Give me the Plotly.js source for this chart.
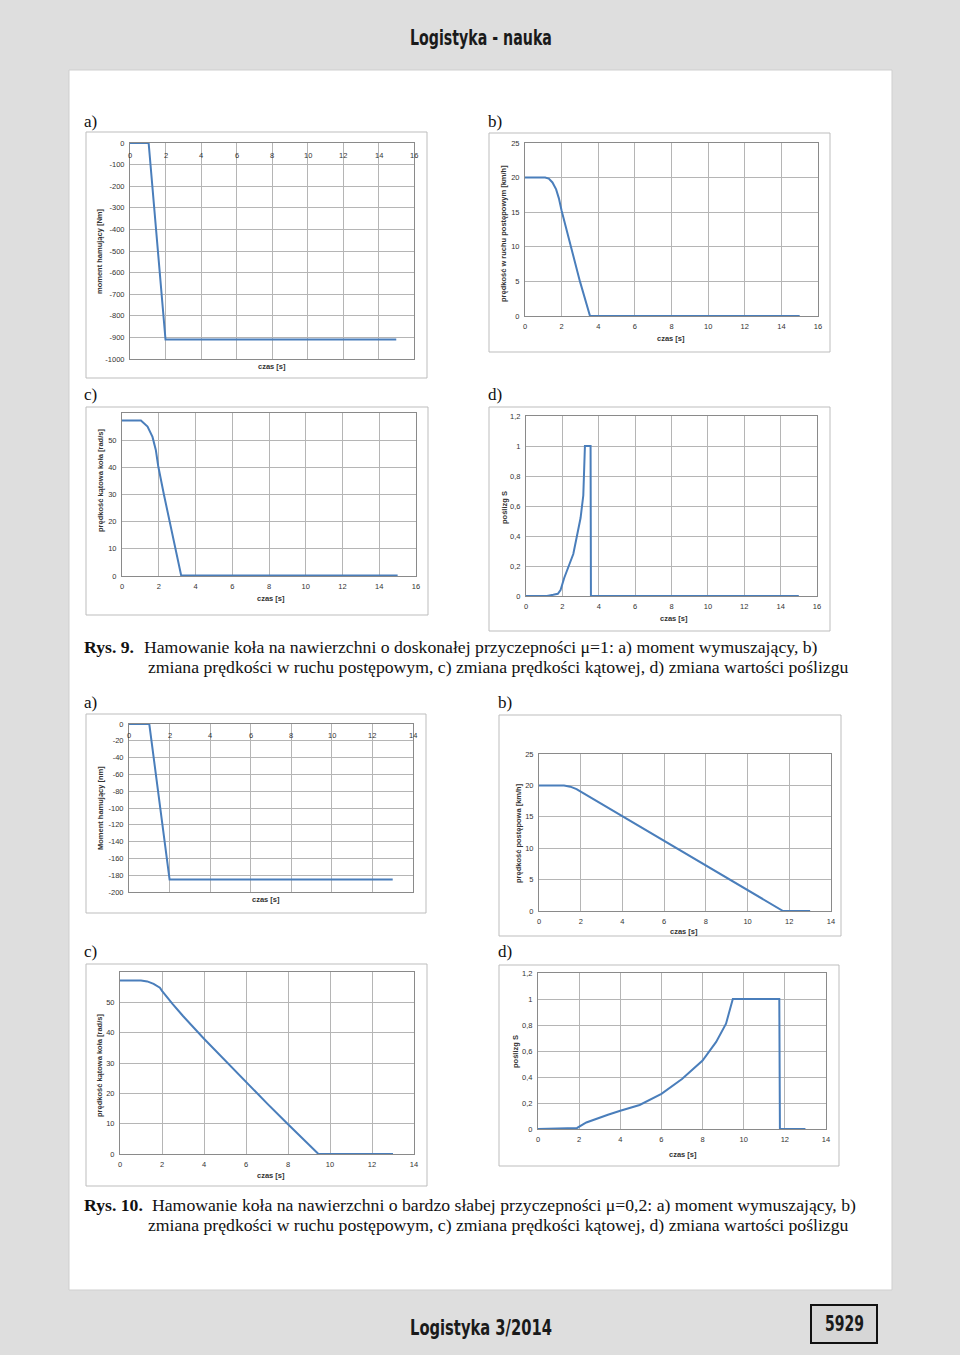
<!DOCTYPE html>
<html><head><meta charset="utf-8">
<script src="https://cdn.plot.ly/plotly-3.0.1.min.js"></script>
<style>
html,body{margin:0;padding:0;background:#dedede}
#wrap{position:relative;width:960px;height:1355px}
#page{width:960px;height:1355px}
.hdr{position:absolute;font-family:'DejaVu Sans',sans-serif;font-weight:bold;color:#1a1a1a;white-space:nowrap;transform-origin:0 50%;line-height:1}
</style>
</head><body><div id="wrap"><div id="page"></div>
<div class="hdr" id="h1" data-x="410" data-y="38" data-w="142">Logistyka - nauka</div>
<div class="hdr" id="h2" data-x="410" data-y="1328" data-w="142">Logistyka 3/2014</div>
<div class="hdr" id="h3" data-x="825" data-y="1324" data-w="39">5929</div>
</div>
<script>
// ---------- DATA ----------
// Rys. 9 (mu = 1)
const t9a = [0, 1.05, 2.0, 15];
const m9a = [0, 0, -910, -910];
const t9b = [0, 1.1, 1.3, 1.5, 1.7, 1.85, 2.0, 2.5, 3.0, 3.55, 15];
const v9b = [20, 20, 19.85, 19.3, 18.3, 17.0, 15.2, 10, 5, 0, 0];
const t9c = [0, 1.03, 1.39, 1.66, 1.84, 1.97, 2.28, 2.6, 2.9, 3.22, 15];
const w9c = [57.2, 57.2, 55, 51.2, 46.4, 40.5, 30, 20, 10, 0.2, 0.2];
const t9d = [0, 1.15, 1.5, 1.75, 1.9, 2.1, 2.35, 2.6, 2.8, 3.0, 3.15, 3.24, 3.55, 3.57, 15];
const s9d = [0, 0, 0.008, 0.015, 0.04, 0.12, 0.2, 0.28, 0.4, 0.52, 0.67, 1, 1, 0, 0];
// Rys. 10 (mu = 0,2)
const t10a = [0, 1.0, 2.0, 13];
const m10a = [0, 0, -185, -185];
const t10b = [0, 1.2, 1.5, 1.8, 2.0, 11.7, 13];
const v10b = [20, 20, 19.8, 19.4, 19.0, 0, 0];
const t10c = [0, 1.0, 1.3, 1.6, 1.9, 2.0, 2.5, 3, 4, 5, 6, 7, 8, 9.45, 13];
const w10c = [57.2, 57.2, 56.9, 56.1, 54.8, 53.8, 49.5, 45.5, 38, 30.8, 23.7, 16.7, 9.8, 0, 0];
const t10d = [0, 1.9, 2.35, 2.83, 3.4, 4.0, 4.94, 6.0, 7.0, 8.0, 8.66, 9.14, 9.47, 11.73, 11.76, 13];
const s10d = [0, 0.008, 0.05, 0.08, 0.11, 0.14, 0.185, 0.27, 0.385, 0.527, 0.67, 0.81, 1, 1, 0, 0];

// tick labels
const xTicks16 = [0, 2, 4, 6, 8, 10, 12, 14, 16];
const xTicks14 = [0, 2, 4, 6, 8, 10, 12, 14];
const yTicks9a = [0, -100, -200, -300, -400, -500, -600, -700, -800, -900, -1000];
const yTicks10a = [0, -20, -40, -60, -80, -100, -120, -140, -160, -180, -200];
const yTicksV = [0, 5, 10, 15, 20, 25];
const yTicksW = [0, 10, 20, 30, 40, 50];
const yTicksS = [0, 0.2, 0.4, 0.6, 0.8, 1, 1.2];
const yTextS = ['0', '0,2', '0,4', '0,6', '0,8', '1', '1,2'];

// ---------- LAYOUT HELPERS ----------
const W = 960, H = 1355;
const px = x => x / W;
const py = y => 1 - y / H;
const tickFont = {family: 'Liberation Sans, Arial, sans-serif', size: 7.5, color: '#333'};
const LINE = '#4a7ebb';

const charts = [
  {t: t9a, y: m9a, box: [86, 132, 427, 378], plot: [130, 143, 414, 359], xr: [0, 16], xt: xTicks16, yr: [-1000, 0], yt: yTicks9a, topLab: 155,
   ytitle: 'moment hamujący [Nm]', yt_pos: [100, 251], xt_pos: [272, 366]},
  {t: t9b, y: v9b, box: [489, 133, 830, 352], plot: [525, 143, 818, 316], xr: [0, 16], xt: xTicks16, yr: [0, 25], yt: yTicksV,
   ytitle: 'prędkość w ruchu postępowym [km/h]', yt_pos: [503, 234], xt_pos: [671, 339]},
  {t: t9c, y: w9c, box: [86, 407, 428, 615], plot: [122, 413, 416, 576], xr: [0, 16], xt: xTicks16, yr: [0, 60], yt: yTicksW,
   ytitle: 'prędkość kątowa koła [rad/s]', yt_pos: [100, 481], xt_pos: [271, 598]},
  {t: t9d, y: s9d, box: [489, 407, 830, 631], plot: [526, 416, 817, 596], xr: [0, 16], xt: xTicks16, yr: [0, 1.2], yt: yTicksS, ytt: yTextS,
   ytitle: 'poślizg S', yt_pos: [504, 508], xt_pos: [674, 618]},
  {t: t10a, y: m10a, box: [86, 714, 426, 913], plot: [129, 724, 413, 892], xr: [0, 14], xt: xTicks14, yr: [-200, 0], yt: yTicks10a, topLab: 735,
   ytitle: 'Moment hamujący [nm]', yt_pos: [100, 808], xt_pos: [266, 899]},
  {t: t10b, y: v10b, box: [499, 715, 841, 936], plot: [539, 754, 831, 911], xr: [0, 14], xt: xTicks14, yr: [0, 25], yt: yTicksV,
   ytitle: 'prędkość postępowa [km/h]', yt_pos: [518, 833], xt_pos: [684, 931]},
  {t: t10c, y: w10c, box: [86, 964, 427, 1186], plot: [120, 972, 414, 1154], xr: [0, 14], xt: xTicks14, yr: [0, 60], yt: yTicksW,
   ytitle: 'prędkość kątowa koła [rad/s]', yt_pos: [99, 1066], xt_pos: [271, 1175]},
  {t: t10d, y: s10d, box: [499, 965, 839, 1166], plot: [538, 973, 826, 1129], xr: [0, 14], xt: xTicks14, yr: [0, 1.2], yt: yTicksS, ytt: yTextS,
   ytitle: 'poślizg S', yt_pos: [515, 1052], xt_pos: [683, 1154]}
];

const traces = [];
const layout = {
  width: W, height: H, margin: {l: 0, r: 0, t: 0, b: 0},
  paper_bgcolor: '#dedede', plot_bgcolor: '#ffffff', showlegend: false,
  shapes: [], annotations: []
};

// page panel
layout.shapes.push({type: 'rect', xref: 'paper', yref: 'paper', x0: px(69), x1: px(892), y0: py(70), y1: py(1290),
  fillcolor: '#ffffff', line: {color: '#cfcfcf', width: 1}, layer: 'below'});
// page number box
layout.shapes.push({type: 'rect', xref: 'paper', yref: 'paper', x0: px(811), x1: px(877), y0: py(1305), y1: py(1343),
  fillcolor: '#d6d6d6', line: {color: '#111', width: 2}, layer: 'below'});

const ann = (x, y, text, o) => Object.assign({xref: 'paper', yref: 'paper', x: px(x), y: py(y), text: text, showarrow: false,
  xanchor: 'center', yanchor: 'middle', font: {family: 'Liberation Serif, Times New Roman, serif', size: 17, color: '#111'}}, o || {});

charts.forEach((c, i) => {
  const n = i + 1;
  const xa = 'x' + (n === 1 ? '' : n), ya = 'y' + (n === 1 ? '' : n);
  traces.push({type: 'scatter', mode: 'lines', x: c.t, y: c.y, xaxis: xa, yaxis: ya,
    line: {color: LINE, width: 2}, hoverinfo: 'skip'});
  const b = c.box, p = c.plot;
  layout.shapes.push({type: 'rect', xref: 'paper', yref: 'paper', x0: px(b[0]), x1: px(b[2]), y0: py(b[1]), y1: py(b[3]),
    fillcolor: '#ffffff', line: {color: '#bdbdbd', width: 1}, layer: 'below'});
  const xkey = 'xaxis' + (n === 1 ? '' : n), ykey = 'yaxis' + (n === 1 ? '' : n);
  layout[xkey] = {
    domain: [px(p[0]), px(p[2])], anchor: ya, range: c.xr, tickvals: c.xt, ticktext: c.xt.map(String),
    showgrid: true, gridcolor: '#b5b5b5', gridwidth: 1, zeroline: false,
    showline: true, linecolor: '#8a8a8a', linewidth: 1, mirror: true,
    ticks: '', tickfont: tickFont, fixedrange: true, automargin: false,
    showticklabels: !c.topLab, ticklabelstandoff: 3
  };
  layout[ykey] = {
    domain: [py(p[3]), py(p[1])], anchor: xa, range: c.yr, tickvals: c.yt, ticktext: c.ytt || c.yt.map(String),
    showgrid: true, gridcolor: '#b5b5b5', gridwidth: 1, zeroline: false,
    showline: true, linecolor: '#8a8a8a', linewidth: 1, mirror: true,
    ticks: '', tickfont: tickFont, fixedrange: true, automargin: false, ticklabelstandoff: 3
  };
  // x tick labels drawn just under the top (zero) axis for the braking-moment charts
  if (c.topLab) {
    c.xt.forEach(v => layout.annotations.push({xref: xa, yref: 'paper', x: v, y: py(c.topLab), text: String(v),
      showarrow: false, xanchor: 'center', yanchor: 'middle', font: tickFont}));
  }
  layout.annotations.push(ann(c.yt_pos[0], c.yt_pos[1], '<b>' + c.ytitle + '</b>',
    {textangle: -90, font: {family: 'Liberation Sans, Arial, sans-serif', size: 7.5, color: '#333'}}));
  layout.annotations.push(ann(c.xt_pos[0], c.xt_pos[1], '<b>czas [s]</b>',
    {font: {family: 'Liberation Sans, Arial, sans-serif', size: 7.5, color: '#333'}}));
});

// panel letters
[['a)', 82, 121], ['b)', 486, 121], ['c)', 82, 394], ['d)', 486, 394],
 ['a)', 82, 702], ['b)', 496, 702], ['c)', 82, 951], ['d)', 496, 951]].forEach(l =>
  layout.annotations.push(ann(l[1], l[2], l[0], {xanchor: 'left'})));

// captions
const capFont = {family: 'Liberation Serif, Times New Roman, serif', size: 17.7, color: '#111'};
const cap = (x, y, t) => layout.annotations.push(ann(x, y, t, {xanchor: 'left', font: capFont}));
cap(82, 647, '<b>Rys. 9.</b>');
cap(142, 647, 'Hamowanie koła na nawierzchni o doskonałej przyczepności μ=1: a) moment wymuszający, b)');
cap(146, 667, 'zmiana prędkości w ruchu postępowym, c) zmiana prędkości kątowej, d) zmiana wartości poślizgu');
cap(82, 1205, '<b>Rys. 10.</b>');
cap(150, 1205, 'Hamowanie koła na nawierzchni o bardzo słabej przyczepności μ=0,2: a) moment wymuszający, b)');
cap(146, 1225, 'zmiana prędkości w ruchu postępowym, c) zmiana prędkości kątowej, d) zmiana wartości poślizgu');

Plotly.newPlot('page', traces, layout, {staticPlot: true, displayModeBar: false});

// condensed header / footer texts: fit to the measured widths of the original
document.querySelectorAll('.hdr').forEach(el => {
  el.style.fontSize = '21px';
  const w = el.getBoundingClientRect().width;
  const s = (+el.dataset.w) / w;
  const h = el.getBoundingClientRect().height;
  el.style.left = el.dataset.x + 'px';
  el.style.top = (el.dataset.y - h / 2) + 'px';
  el.style.transform = 'scaleX(' + s.toFixed(3) + ')';
});
</script>
</body></html>
